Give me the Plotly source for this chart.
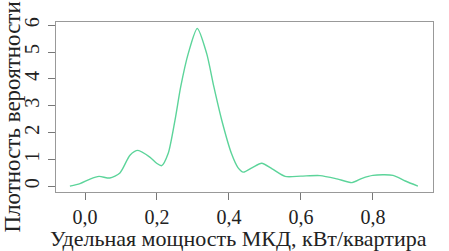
import plotly.graph_objects as go

x_vals = [-0.042, -0.014, 0.014, 0.039, 0.069, 0.097, 0.125, 0.147, 0.18, 0.199, 0.213,
          0.231, 0.25, 0.266, 0.287, 0.312, 0.338, 0.358, 0.38, 0.407, 0.425, 0.44,
          0.465, 0.491, 0.52, 0.556, 0.60, 0.653, 0.70, 0.742, 0.77, 0.80, 0.856, 0.89, 0.925]
density = [0.01, 0.10, 0.27, 0.37, 0.31, 0.50, 1.16, 1.34, 1.09, 0.86, 0.77,
           1.22, 2.46, 3.71, 4.95, 5.88, 4.95, 3.71, 2.46, 1.22, 0.70, 0.53,
           0.70, 0.86, 0.65, 0.37, 0.38, 0.40, 0.28, 0.14, 0.30, 0.41, 0.41, 0.20, 0.01]

x_ticks = [0.0, 0.2, 0.4, 0.6, 0.8]
x_ticktext = ["0,0", "0,2", "0,4", "0,6", "0,8"]
y_ticks = [0, 1, 2, 3, 4, 5, 6]

x_title = "Удельная мощность МКД, кВт/квартира"
y_title = "Плотность вероятности"

fig = go.Figure()
fig.add_trace(go.Scatter(x=x_vals, y=density, mode="lines",
                         line=dict(color="#5CD49A", width=1.4, shape="spline", smoothing=0.7),
                         hoverinfo="skip"))

tick_font = dict(family="Liberation Serif", size=20, color="#222")
title_font_x = dict(family="Liberation Serif", size=22, color="#222")
title_font_y = dict(family="Liberation Serif", size=23, color="#222")

fig.update_layout(
    width=449, height=251,
    margin=dict(l=56, r=16, t=22, b=59),
    paper_bgcolor="white", plot_bgcolor="white",
    showlegend=False,
)
fig.update_xaxes(range=[-0.0806, 0.967], tickvals=x_ticks, ticktext=x_ticktext,
                 showgrid=False, zeroline=False, showline=True, mirror=True,
                 linecolor="#999", linewidth=1.2, ticks="outside", ticklen=7,
                 tickcolor="#777", tickfont=tick_font, ticklabelstandoff=0,
                 automargin=False)
fig.update_yaxes(range=[-0.21, 6.12], tickvals=y_ticks,
                 showgrid=False, zeroline=False, showline=True, mirror=True,
                 linecolor="#999", linewidth=1.2, ticks="outside", ticklen=7,
                 tickcolor="#777", tickfont=tick_font, tickangle=-90, ticklabelstandoff=1,
                 automargin=False)

fig.add_annotation(text=x_title, xref="paper", yref="paper", x=0.485, y=-0.272,
                   xanchor="center", yanchor="middle", showarrow=False, font=title_font_x)
fig.add_annotation(text=y_title, xref="paper", yref="paper", x=-0.114, y=0.438,
                   xanchor="center", yanchor="middle", textangle=-90, showarrow=False,
                   font=title_font_y)

fig.write_html("out.html", config={"displayModeBar": False},
               post_script="document.body.style.margin='0';document.body.style.overflow='hidden';")
